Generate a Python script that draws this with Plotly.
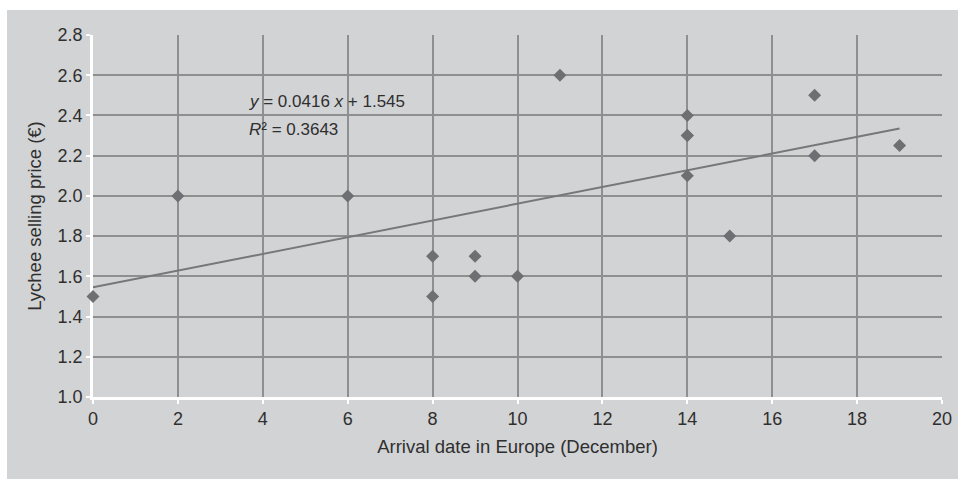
import plotly.graph_objects as go

# Arrival day in December and selling price per shipment
arrival_day = [0, 2, 6, 8, 8, 9, 9, 10, 11, 14, 14, 14, 14, 15, 17, 17, 19]
price_eur = [1.5, 2.0, 2.0, 1.7, 1.5, 1.7, 1.6, 1.6, 2.6, 2.4, 2.3, 2.3, 2.1, 1.8, 2.5, 2.2, 2.25]

# Linear trend reported on the chart
slope = 0.0416
intercept = 1.545
r_squared = 0.3643
trend_x = [min(arrival_day), max(arrival_day)]
trend_y = [slope * v + intercept for v in trend_x]

x_ticks = list(range(0, 21, 2))
y_ticks = [1.0, 1.2, 1.4, 1.6, 1.8, 2.0, 2.2, 2.4, 2.6, 2.8]

BG = "#d2d3d5"
GRID = "#8e8f91"
TEXT = "#2f2f2f"
FONT = "Liberation Sans, Arial, sans-serif"

fig = go.Figure()
fig.add_trace(go.Scatter(
    x=trend_x, y=trend_y, mode="lines",
    line=dict(color="#76777a", width=2), hoverinfo="skip", showlegend=False))
fig.add_trace(go.Scatter(
    x=arrival_day, y=price_eur, mode="markers", cliponaxis=False,
    marker=dict(symbol="diamond", size=10, color="#6e6f72", line=dict(width=0)),
    showlegend=False))

fig.add_annotation(
    x=3.62, y=2.468, xref="x", yref="y", xanchor="left", yanchor="middle",
    text=f"<i>y</i> = {slope} <i>x</i> + {intercept}", showarrow=False,
    font=dict(size=17, color=TEXT, family=FONT))
fig.add_annotation(
    x=3.62, y=2.33, xref="x", yref="y", xanchor="left", yanchor="middle",
    text=f"<i>R</i>² = {r_squared}", showarrow=False,
    font=dict(size=17, color=TEXT, family=FONT))

# Grey panel behind the whole chart
fig.add_shape(type="rect", xref="paper", yref="paper",
              x0=-0.1013, x1=1.0188, y0=-0.30, y1=1.069,
              fillcolor=BG, line=dict(width=0), layer="below")

axis_common = dict(
    showgrid=True, gridcolor=GRID, gridwidth=1.5,
    showline=True, linecolor="white", linewidth=2.5, mirror=False,
    ticks="outside", ticklen=4, tickwidth=2, tickcolor="white",
    zeroline=False, layer="below traces",
    tickfont=dict(size=18, color=TEXT, family=FONT),
)

fig.update_xaxes(range=[0, 20], tickvals=x_ticks, ticktext=[str(v) for v in x_ticks],
                 title=dict(text="Arrival date in Europe (December)", standoff=12,
                            font=dict(size=18.5, color=TEXT, family=FONT)),
                 **axis_common)
fig.update_yaxes(range=[1.0, 2.8], tickvals=y_ticks, ticktext=[f"{v:.1f}" for v in y_ticks],
                 title=dict(text="Lychee selling price (€)", standoff=12,
                            font=dict(size=18.5, color=TEXT, family=FONT)),
                 **axis_common)

fig.update_layout(
    width=963, height=479,
    margin=dict(l=93, r=21, t=35, b=82),
    paper_bgcolor="white", plot_bgcolor=BG,
    font=dict(family=FONT, color=TEXT),
)

fig.write_html("out.html")
